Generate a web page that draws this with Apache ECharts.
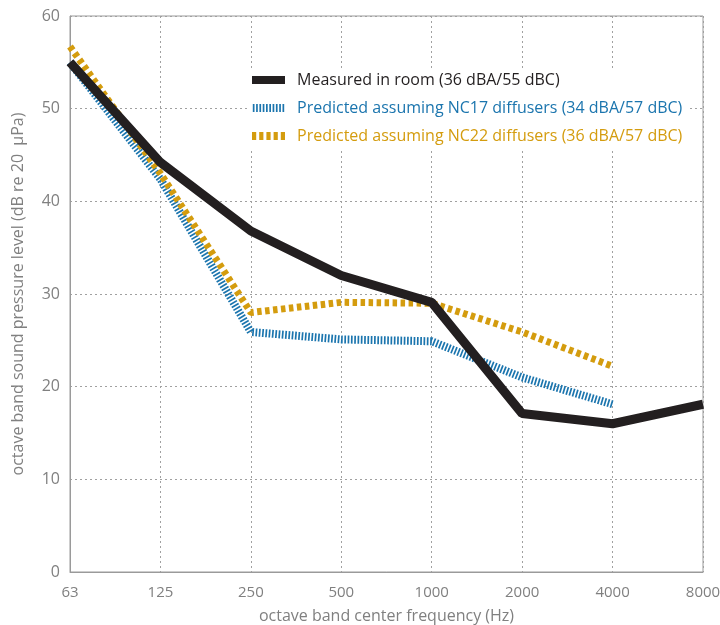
<!DOCTYPE html>
<html><head><meta charset="utf-8">
<script src="https://cdn.jsdelivr.net/npm/echarts@6/dist/echarts.min.js"></script>
<style>html,body{margin:0;padding:0;background:#fff}#c{width:720px;height:625px}</style>
</head><body><div id="c"></div>
<script>
const categories = ['63','125','250','500','1000','2000','4000','8000'];
const measured = [55, 44.2, 36.8, 32, 29.1, 17.1, 16, 18.1];
const nc17 = [55, 42.4, 25.9, 25.1, 24.9, 21, 18.1, null];
const nc22 = [56.7, 43, 28, 29.1, 29, 25.9, 22.2, null];
const names = ['Measured in room (36 dBA/55 dBC)','Predicted assuming NC17 diffusers (34 dBA/57 dBC)','Predicted assuming NC22 diffusers (36 dBA/57 dBC)'];
const colors = ['#231f20','#1b75ae','#d49c0e'];
const font = 'Open Sans';

function stripes(n, period, w, h) {
  let p = 'path://';
  for (let i = 0; i < n; i++) {
    const x = (i * period).toFixed(2);
    p += 'M' + x + ',0h' + w + 'v' + h + 'h-' + w + 'z';
  }
  return p;
}
const iconBlue = stripes(10, 3.3, 1.7, 8);
const iconGold = stripes(5, 7.2, 4.2, 8);

const chart = echarts.init(document.getElementById('c'));
chart.setOption({
  animation:false,
  grid:{left:70,right:17,top:16,bottom:53,show:true,borderColor:'#9a9a9a',borderWidth:1,
    containLabel:false,outerBoundsMode:'none'},
  legend:{orient:'vertical',left:248,top:68,itemWidth:33,itemHeight:8,itemGap:12,
    data:[
      {name:names[0],icon:'rect',itemStyle:{color:colors[0],borderWidth:0},textStyle:{color:colors[0]}},
      {name:names[1],icon:iconBlue,itemStyle:{color:colors[1],borderWidth:0},textStyle:{color:colors[1]}},
      {name:names[2],icon:iconGold,itemStyle:{color:colors[2],borderWidth:0},textStyle:{color:colors[2]}}
    ],
    textStyle:{fontFamily:font,fontSize:16,padding:[0,0,0,7]},backgroundColor:'#fff',padding:[4,6,4,4]},
  xAxis:{type:'category',data:categories,boundaryGap:false,
    axisLine:{lineStyle:{color:'#9a9a9a'}},axisTick:{show:false},
    axisLabel:{color:'#808080',fontFamily:font,fontSize:15,margin:13},
    splitLine:{show:true,lineStyle:{color:'#a0a0a0',type:[2,3]}},
    name:'octave band center frequency (Hz)',nameLocation:'middle',nameGap:36,
    nameTextStyle:{color:'#808080',fontFamily:font,fontSize:16}},
  yAxis:{type:'value',min:0,max:60,interval:10,
    axisLine:{show:true,lineStyle:{color:'#9a9a9a'}},axisTick:{show:false},
    axisLabel:{color:'#808080',fontFamily:font,fontSize:16,margin:10},
    splitLine:{lineStyle:{color:'#a0a0a0',type:[2,3]}},
    name:'octave band sound pressure level (dB re 20  μPa)',nameLocation:'middle',nameGap:44,
    nameTextStyle:{color:'#808080',fontFamily:font,fontSize:16}},
  series:[
    {name:names[1],type:'line',data:nc17,symbol:'none',z:3,
      lineStyle:{color:colors[1],width:8,type:[1.7,1.6]},itemStyle:{color:colors[1]}},
    {name:names[2],type:'line',data:nc22,symbol:'none',z:4,
      lineStyle:{color:colors[2],width:7,type:[4.5,3.5]},itemStyle:{color:colors[2]}},
    {name:names[0],type:'line',data:measured,symbol:'none',z:5,
      lineStyle:{color:colors[0],width:9},itemStyle:{color:colors[0]}}
  ]
});
</script></body></html>
